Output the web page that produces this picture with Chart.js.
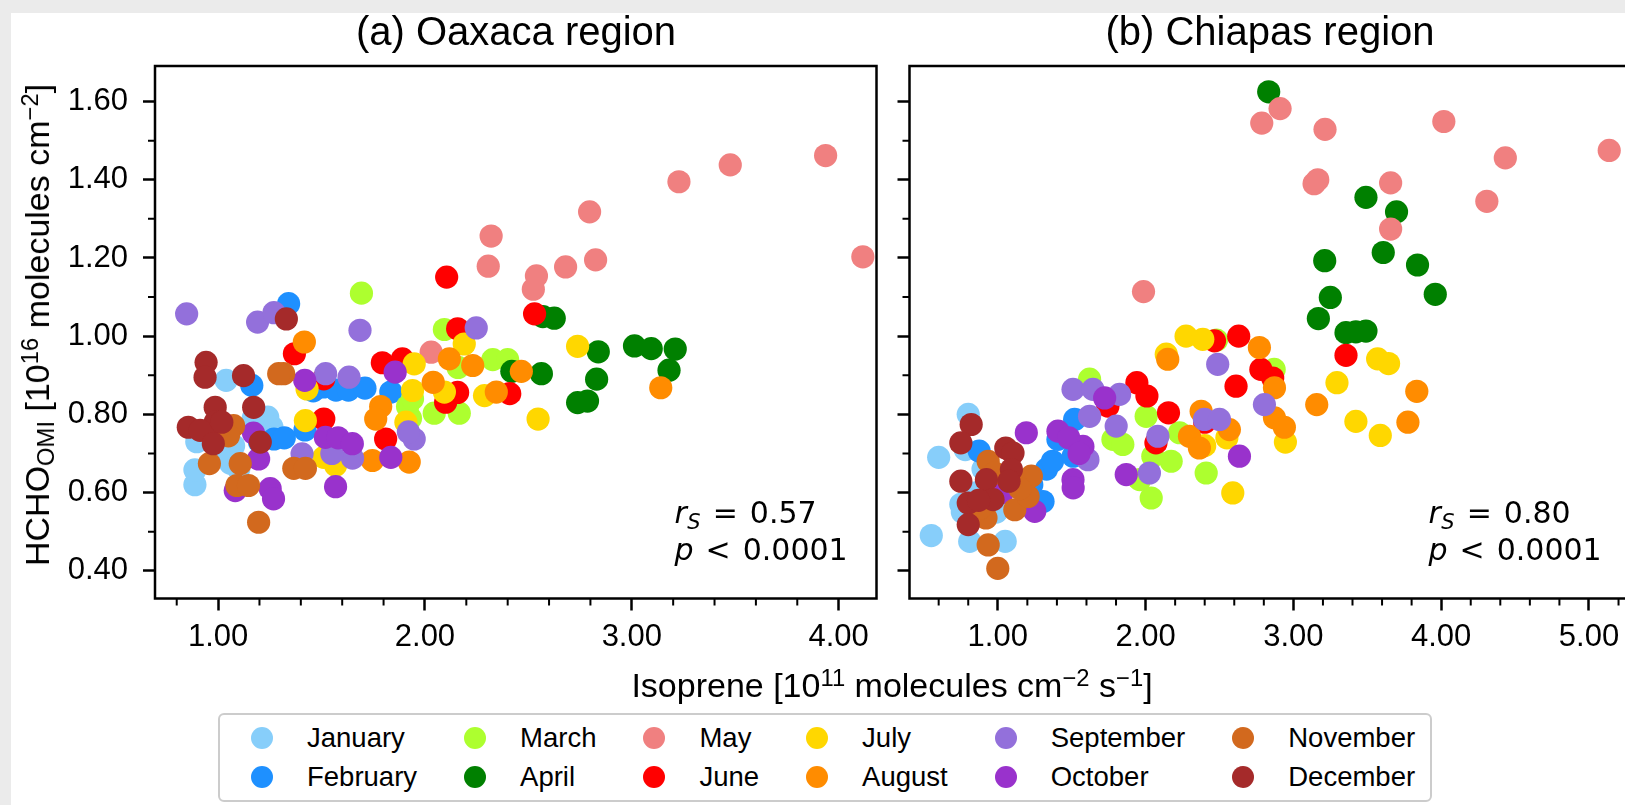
<!DOCTYPE html>
<html>
<head>
<meta charset="utf-8">
<title>HCHO vs isoprene</title>
<script src="https://cdn.jsdelivr.net/npm/chart.js@4.4.1/dist/chart.umd.min.js"></script>
<style>
html, body { margin: 0; padding: 0; }
body {
    width: 1625px; height: 805px; overflow: hidden; position: relative;
    background: #ebebeb; color: #000;
    font-family: "Liberation Sans", Arial, sans-serif;
}
#sheet { position: absolute; left: 11px; top: 13px; right: 0; bottom: 0; background: #fff; }
canvas { position: absolute; left: 0; top: 0; }
sup, sub { font-size: 0.7em; line-height: 0; position: relative; vertical-align: baseline; }
sup { top: -0.45em; }
sub { top: 0.2em; }
.ptitle {
    position: absolute; top: 11px; font-size: 40px; line-height: 40px;
    transform: translateX(-50%); white-space: nowrap;
}
#xlabel {
    position: absolute; left: 892px; top: 668px; font-size: 34px; line-height: 34px;
    transform: translateX(-50%); white-space: nowrap;
}
#ylabel {
    position: absolute; left: 37px; top: 325px; font-size: 34px; line-height: 34px;
    transform: translate(-50%, -50%) rotate(-90deg); white-space: nowrap;
}
#legend {
    position: absolute; left: 218px; top: 713px;
    border: 2px solid #cccccc; border-radius: 6px; background: #fff;
    display: flex; column-gap: 31px; padding: 3px 15px 4px 15px;
}
.lcol { display: flex; flex-direction: column; }
.litem { height: 39px; display: flex; align-items: center; font-size: 27.5px; white-space: nowrap; }
.lmark { width: 54px; display: flex; justify-content: center; }
.lmark span { width: 22px; height: 22px; border-radius: 50%; display: block; }
.ltext { margin-left: 18px; }
</style>
</head>
<body>
<div id="sheet"></div>
<canvas id="oaxaca" width="1700" height="805"></canvas>
<canvas id="chiapas" width="1700" height="805"></canvas>
<div class="ptitle" style="left:516px">(a) Oaxaca region</div>
<div class="ptitle" style="left:1270px">(b) Chiapas region</div>
<div id="ylabel">HCHO<sub>OMI</sub> [10<sup>16</sup> molecules cm<sup>−2</sup>]</div>
<div id="xlabel">Isoprene [10<sup>11</sup> molecules cm<sup>−2</sup> s<sup>−1</sup>]</div>
<div id="legend"></div>
<script>
const months = ['January', 'February', 'March', 'April', 'May', 'June',
    'July', 'August', 'September', 'October', 'November', 'December'];
const monthColors = ['#87cefa', '#1e90ff', '#adff2f', '#008000', '#f08080', '#ff0000',
    '#ffd700', '#ff8c00', '#9370db', '#9932cc', '#d2691e', '#a52a2a'];

const yTicks = [0.4, 0.6, 0.8, 1.0, 1.2, 1.4, 1.6];
const oaxXTicks = [1, 2, 3, 4];
const chiXTicks = [1, 2, 3, 4, 5];

// (a) Oaxaca: [isoprene, HCHO] per month
const oaxJan = [[0.888, 0.62], [0.888, 0.658], [0.897, 0.73], [1.039, 0.887], [1.24, 0.793], [1.26, 0.768],
    [1.075, 0.72], [1.06, 0.675], [0.93, 0.75], [1.0, 0.70], [1.10, 0.66], [1.17, 0.79], [1.02, 0.76]];
const oaxFeb = [[1.341, 1.083], [1.163, 0.874], [1.51, 0.87], [1.57, 0.862], [1.63, 0.862], [1.71, 0.867],
    [1.835, 0.857], [1.27, 0.737], [1.32, 0.74], [1.42, 0.76], [1.46, 0.86], [1.20, 0.73]];
const oaxMar = [[1.693, 1.11], [2.094, 1.017], [1.916, 0.82], [2.045, 0.803], [2.166, 0.803], [2.328, 0.94],
    [2.40, 0.94], [1.93, 0.79], [2.16, 0.92], [1.94, 0.84]];
const oaxApr = [[2.625, 1.046], [2.838, 0.96], [3.013, 0.975], [3.094, 0.968], [3.21, 0.967], [3.18, 0.913],
    [2.83, 0.89], [2.738, 0.83], [2.786, 0.834], [2.563, 0.904], [2.42, 0.91], [2.57, 1.05]];
const oaxMay = [[2.32, 1.256], [2.306, 1.179], [2.539, 1.154], [2.524, 1.12], [2.68, 1.177], [2.796, 1.318],
    [2.825, 1.195], [3.228, 1.395], [3.476, 1.438], [3.937, 1.462], [4.117, 1.203], [2.03, 0.959]];
const oaxJun = [[2.105, 1.151], [2.53, 1.057], [2.158, 1.019], [1.794, 0.932], [1.891, 0.942], [1.369, 0.955],
    [2.158, 0.856], [2.10, 0.831], [2.41, 0.853], [1.511, 0.788], [1.81, 0.737], [1.511, 0.891]];
const oaxJul = [[2.19, 0.98], [1.948, 0.929], [1.94, 0.861], [2.094, 0.857], [2.288, 0.848], [1.908, 0.78],
    [1.422, 0.784], [2.547, 0.788], [1.511, 0.69], [1.568, 0.67], [1.43, 0.865], [2.738, 0.974]];
const oaxAug = [[1.417, 0.985], [2.118, 0.942], [2.231, 0.925], [2.04, 0.882], [2.345, 0.857], [2.466, 0.91],
    [1.786, 0.82], [1.762, 0.788], [1.746, 0.682], [1.924, 0.678], [3.14, 0.868]];
const oaxSep = [[0.848, 1.057], [1.191, 1.036], [1.27, 1.06], [1.686, 1.015], [2.248, 1.021], [1.52, 0.904],
    [1.633, 0.895], [1.948, 0.737], [1.92, 0.755], [1.65, 0.688], [1.406, 0.699], [1.55, 0.70]];
const oaxOct = [[1.419, 0.887], [1.856, 0.908], [1.171, 0.752], [1.196, 0.686], [1.519, 0.741], [1.58, 0.74],
    [1.649, 0.725], [1.835, 0.69], [1.568, 0.615], [1.252, 0.61], [1.268, 0.584], [1.083, 0.605]];
const oaxNov = [[1.317, 0.904], [1.293, 0.904], [1.075, 0.771], [1.05, 0.745], [0.958, 0.674], [1.107, 0.674],
    [1.091, 0.618], [1.147, 0.618], [1.366, 0.662], [1.422, 0.662], [1.196, 0.524]];
const oaxDec = [[1.33, 1.044], [0.942, 0.933], [0.937, 0.895], [1.123, 0.899], [1.172, 0.818], [0.856, 0.767],
    [0.986, 0.818], [0.986, 0.78], [1.018, 0.78], [0.913, 0.759], [0.977, 0.725], [1.204, 0.729]];

// (b) Chiapas
const chiJan = [[0.80, 0.80], [0.60, 0.69], [0.55, 0.49], [0.81, 0.475], [1.05, 0.475], [0.75, 0.57],
    [0.76, 0.55], [0.99, 0.55], [0.86, 0.60], [0.90, 0.66], [0.78, 0.71]];
const chiFeb = [[0.874, 0.706], [1.306, 0.577], [1.33, 0.66], [1.37, 0.68], [1.407, 0.736], [1.52, 0.787],
    [1.51, 0.693], [1.10, 0.633], [1.0, 0.62], [1.23, 0.62], [1.45, 0.75]];
const chiMar = [[1.621, 0.89], [2.004, 0.795], [1.779, 0.736], [1.846, 0.723], [2.049, 0.693], [2.173, 0.68],
    [2.038, 0.586], [2.41, 0.65], [1.96, 0.633], [2.23, 0.753], [2.48, 0.99], [2.87, 0.915]];
const chiApr = [[2.833, 1.625], [3.491, 1.355], [3.698, 1.318], [3.212, 1.193], [3.608, 1.214], [3.84, 1.182],
    [3.96, 1.107], [3.25, 1.099], [3.169, 1.045], [3.356, 1.009], [3.423, 1.011], [3.491, 1.013]];
const chiMay = [[1.986, 1.114], [2.91, 1.582], [2.786, 1.545], [3.214, 1.529], [4.018, 1.549], [4.434, 1.456],
    [5.137, 1.475], [3.14, 1.39], [3.165, 1.40], [3.658, 1.392], [4.309, 1.345], [3.658, 1.274]];
const chiJun = [[1.941, 0.881], [2.009, 0.847], [1.745, 0.821], [2.155, 0.804], [2.63, 1.0], [2.466, 0.988],
    [2.612, 0.872], [2.78, 0.915], [2.86, 0.893], [3.356, 0.951], [2.07, 0.727], [2.40, 0.78]];
const chiJul = [[2.274, 1.0], [2.387, 0.992], [2.59, 0.599], [3.57, 0.942], [3.644, 0.93], [3.295, 0.881],
    [3.423, 0.782], [3.588, 0.746], [2.946, 0.729], [2.14, 0.954], [2.40, 0.72], [2.55, 0.74]];
const chiAug = [[2.15, 0.941], [2.77, 0.971], [2.872, 0.868], [3.158, 0.825], [3.835, 0.859], [3.775, 0.78],
    [2.872, 0.791], [2.939, 0.767], [2.376, 0.808], [2.297, 0.744], [2.364, 0.714], [2.567, 0.761]];
const chiSep = [[1.509, 0.864], [1.644, 0.864], [1.824, 0.851], [1.621, 0.795], [1.801, 0.77], [1.61, 0.684],
    [2.026, 0.65], [2.083, 0.744], [2.488, 0.928], [2.398, 0.787], [2.50, 0.787], [2.804, 0.825]];
const chiOct = [[1.193, 0.753], [1.25, 0.552], [1.407, 0.757], [1.509, 0.633], [1.51, 0.612], [1.576, 0.718],
    [1.869, 0.646], [2.635, 0.693], [1.723, 0.842], [1.48, 0.74], [1.03, 0.60], [1.55, 0.70]];
const chiNov = [[0.935, 0.68], [0.935, 0.466], [1.00, 0.406], [1.115, 0.556], [1.205, 0.59], [1.227, 0.642],
    [0.92, 0.535], [0.88, 0.56], [1.15, 0.61], [0.98, 0.65]];
const chiDec = [[0.82, 0.774], [0.75, 0.727], [0.75, 0.629], [0.80, 0.573], [0.80, 0.518], [0.923, 0.633],
    [0.968, 0.582], [1.054, 0.714], [1.103, 0.701], [1.092, 0.659], [1.076, 0.629], [0.87, 0.58]];

const oaxaca = [oaxJan, oaxFeb, oaxMar, oaxApr, oaxMay, oaxJun, oaxJul, oaxAug, oaxSep, oaxOct, oaxNov, oaxDec];
const chiapas = [chiJan, chiFeb, chiMar, chiApr, chiMay, chiJun, chiJul, chiAug, chiSep, chiOct, chiNov, chiDec];

const sans = "'Liberation Sans', Arial, sans-serif";
const yRange = [0.329, 1.691];

function minorTicks(min, max, step, majors) {
    var out = [];
    for (var v = Math.ceil(min / step) * step; v <= max + 1e-9; v += step) {
        var r = Math.round(v * 10) / 10;
        if (!majors.some(m => Math.abs(m - r) < 1e-6)) out.push(r);
    }
    return out;
}

// draws a run of [text, font, dy, gapBefore] pieces from x
function drawRun(ctx, pieces, x, y) {
    pieces.forEach(p => {
        ctx.font = p[1];
        x += p[3] || 0;
        ctx.fillText(p[0], x, y + (p[2] || 0));
        x += ctx.measureText(p[0]).width;
    });
}

// box, minor ticks and the Spearman text
const panelFrame = {
    id: 'panelFrame',
    afterDraw(chart, args, opts) {
        const ctx = chart.ctx;
        const a = chart.chartArea;
        const sx = chart.scales.x, sy = chart.scales.y;
        ctx.save();
        ctx.strokeStyle = '#000';
        ctx.lineWidth = 2;
        ctx.beginPath();
        opts.xMinor.forEach(v => {
            const px = sx.getPixelForValue(v);
            ctx.moveTo(px, a.bottom);
            ctx.lineTo(px, a.bottom + 7);
        });
        opts.yMinor.forEach(v => {
            const py = sy.getPixelForValue(v);
            ctx.moveTo(a.left, py);
            ctx.lineTo(a.left - 7, py);
        });
        ctx.stroke();
        ctx.lineWidth = 2.5;
        ctx.strokeRect(a.left, a.top, a.right - a.left, a.bottom - a.top);

        const it = 'italic 30px "DejaVu Sans"', up = '30px "DejaVu Sans"';
        const x0 = a.right - 202;
        ctx.fillStyle = '#000';
        ctx.textAlign = 'left';
        ctx.textBaseline = 'alphabetic';
        drawRun(ctx, [['r', it], ['S', 'italic 21px "DejaVu Sans"', 6, 0.5], ['=', up, 0, 12], [opts.rs, up, 0, 12]],
            x0, a.bottom - 75.5);
        drawRun(ctx, [['p', it], ['<', up, 0, 12], ['0.0001', up, 0, 12]], x0, a.bottom - 38.5);
        ctx.restore();
    }
};

function makePanel(id, groups, xRange, xTicks, showYLabels, rs, pad) {
    return new Chart(document.getElementById(id), {
        type: 'scatter',
        data: {
            datasets: groups.map((pts, i) => ({
                label: months[i],
                data: pts.map(p => ({ x: p[0], y: p[1] })),
                backgroundColor: monthColors[i],
                borderWidth: 0,
                pointRadius: 11.6,
                pointHoverRadius: 11.6,
                order: 11 - i
            }))
        },
        options: {
            responsive: false,
            animation: false,
            events: [],
            devicePixelRatio: 1,
            layout: { padding: pad },
            plugins: {
                legend: { display: false },
                tooltip: { enabled: false },
                panelFrame: {
                    xMinor: minorTicks(xRange[0], xRange[1], 0.2, xTicks),
                    yMinor: minorTicks(yRange[0], yRange[1], 0.1, yTicks),
                    rs: rs
                }
            },
            scales: {
                x: {
                    type: 'linear',
                    min: xRange[0],
                    max: xRange[1],
                    afterBuildTicks: s => { s.ticks = xTicks.map(v => ({ value: v })); },
                    afterFit: s => { s.height = 70; },
                    border: { display: false },
                    grid: { drawOnChartArea: false, drawTicks: true, tickLength: 12, tickWidth: 2.5, tickColor: '#000' },
                    ticks: {
                        color: '#000', padding: 8, maxRotation: 0, autoSkip: false,
                        font: { family: sans, size: 31 },
                        callback: v => v.toFixed(2)
                    }
                },
                y: {
                    type: 'linear',
                    min: yRange[0],
                    max: yRange[1],
                    afterBuildTicks: s => { s.ticks = yTicks.map(v => ({ value: v })); },
                    afterFit: s => { s.width = 120; },
                    border: { display: false },
                    grid: { drawOnChartArea: false, drawTicks: true, tickLength: 12, tickWidth: 2.5, tickColor: '#000' },
                    ticks: {
                        display: showYLabels,
                        color: '#000', padding: 15, autoSkip: false,
                        font: { family: sans, size: 31 },
                        callback: v => v.toFixed(2)
                    }
                }
            }
        },
        plugins: [panelFrame]
    });
}

makePanel('oaxaca', oaxaca, [0.695, 4.183], oaxXTicks, true, '0.57',
    { left: 35, top: 66, right: 823.5, bottom: 136.5 });
makePanel('chiapas', chiapas, [0.4026, 5.281], chiXTicks, false, '0.80',
    { left: 789.5, top: 66, right: 69.5, bottom: 136.5 });

// legend, 6 columns of 2
var legend = document.getElementById('legend');
for (var c = 0; c < 6; c++) {
    var col = document.createElement('div');
    col.className = 'lcol';
    for (var r = 0; r < 2; r++) {
        var i = c * 2 + r;
        var item = document.createElement('div');
        item.className = 'litem';
        item.innerHTML = '<span class="lmark"><span style="background:' + monthColors[i] + '"></span></span>' +
            '<span class="ltext">' + months[i] + '</span>';
        col.appendChild(item);
    }
    legend.appendChild(col);
}
</script>
</body>
</html>
